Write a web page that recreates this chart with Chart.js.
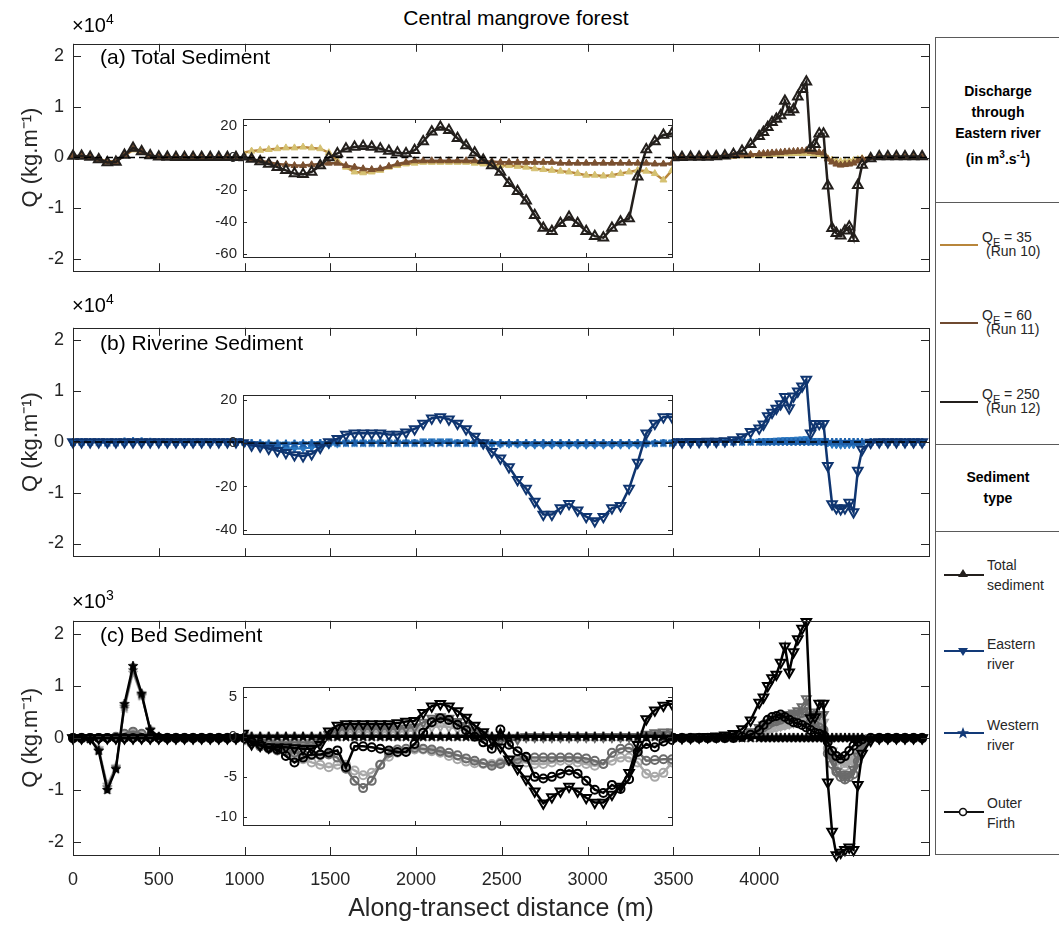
<!DOCTYPE html>
<html>
<head>
<meta charset="utf-8">
<title>Central mangrove forest</title>
<script src="https://cdn.jsdelivr.net/npm/chart.js@4.4.1/dist/chart.umd.min.js"></script>
<style>
  body { margin: 0; background: #fff; }
  #page { position: relative; width: 1059px; height: 926px; overflow: hidden; background: #fff;
          font-family: "Liberation Sans", Arial, Helvetica, sans-serif; color: #262626; }
  #page canvas { position: absolute; }
  .t { position: absolute; white-space: nowrap; }
  .rule { position: absolute; left: 935px; width: 130px; height: 1px; background: #5a5a5a; }
  .hd { position: absolute; left: 937px; width: 122px; text-align: center; font-weight: bold; font-size: 14px; line-height: 21px; color: #000; }
  .lg { position: absolute; font-size: 14px; line-height: 20px; color: #262626; white-space: nowrap; }
  .lg sub { font-size: 11px; vertical-align: -4px; line-height: 0; }
  .sw { position: absolute; }
</style>
</head>
<body>
<div id="page">
  <div class="t" style="left:0;width:1032px;top:6px;text-align:center;font-size:21px;line-height:24px;color:#000">Central mangrove forest</div>

  <!-- legend panel -->
  <div style="position:absolute;left:935px;top:37px;width:140px;height:818px;border:1px solid #5a5a5a;box-sizing:border-box"></div>
  <div class="rule" style="top:202px"></div>
  <div class="rule" style="top:444px"></div>
  <div class="rule" style="top:531px"></div>
  <div class="hd" style="top:81px">Discharge<br>through<br>Eastern river<br>(in m<sup style="font-size:10px">3</sup>.s<sup style="font-size:10px">-1</sup>)</div>

  <svg class="sw" style="left:940px;top:242px" width="40" height="6"><line x1="0" y1="3" x2="38" y2="3" stroke="#b8863b" stroke-width="2"/></svg>
  <div class="lg" style="left:982px;top:227px">Q<sub>E</sub> = 35</div>
  <div class="lg" style="left:986px;top:241px">(Run 10)</div>
  <svg class="sw" style="left:940px;top:320px" width="40" height="6"><line x1="0" y1="3" x2="38" y2="3" stroke="#6f4a30" stroke-width="2"/></svg>
  <div class="lg" style="left:982px;top:305px">Q<sub>E</sub> = 60</div>
  <div class="lg" style="left:986px;top:319px">(Run 11)</div>
  <svg class="sw" style="left:940px;top:399px" width="40" height="6"><line x1="0" y1="3" x2="38" y2="3" stroke="#231f1c" stroke-width="2"/></svg>
  <div class="lg" style="left:982px;top:384px">Q<sub>E</sub> = 250</div>
  <div class="lg" style="left:986px;top:398px">(Run 12)</div>

  <div class="hd" style="top:467px">Sediment<br>type</div>

  <svg class="sw" style="left:944px;top:567px" width="42" height="14"><line x1="0" y1="8" x2="40" y2="8" stroke="#231f1c" stroke-width="2"/><polygon points="19,2 24,10 14,10" fill="#231f1c"/></svg>
  <div class="lg" style="left:987px;top:555px">Total<br>sediment</div>
  <svg class="sw" style="left:944px;top:645px" width="42" height="14"><line x1="0" y1="6" x2="40" y2="6" stroke="#123a78" stroke-width="2"/><polygon points="14,3 24,3 19,11" fill="#123a78"/></svg>
  <div class="lg" style="left:987px;top:634px">Eastern<br>river</div>
  <svg class="sw" style="left:944px;top:726px" width="42" height="14"><line x1="0" y1="7" x2="40" y2="7" stroke="#123a78" stroke-width="2"/><polygon points="19,1 20.6,5.3 25,5.3 21.5,8 22.8,12.5 19,9.8 15.2,12.5 16.5,8 13,5.3 17.4,5.3" fill="#123a78"/></svg>
  <div class="lg" style="left:987px;top:715px">Western<br>river</div>
  <svg class="sw" style="left:944px;top:805px" width="42" height="14"><line x1="0" y1="7" x2="40" y2="7" stroke="#111" stroke-width="2"/><circle cx="19" cy="7" r="3.5" fill="#fff" stroke="#111" stroke-width="1.6"/></svg>
  <div class="lg" style="left:987px;top:793px">Outer<br>Firth</div>
</div>

<script>
// along-transect distance (m), shared by every series
const distance = [
  0, 50, 100, 150, 200, 250, 300, 350, 400, 450, 500, 550, 600, 650, 700, 750, 800, 850, 900, 950,
  1000, 1050, 1100, 1150, 1200, 1250, 1300, 1350, 1400, 1450, 1500, 1550, 1600, 1650, 1700, 1750, 1800, 1850, 1900, 1950,
  2000, 2050, 2100, 2150, 2200, 2250, 2300, 2350, 2400, 2450, 2500, 2550, 2600, 2650, 2700, 2750, 2800, 2850, 2900, 2950,
  3000, 3050, 3100, 3150, 3200, 3250, 3300, 3350, 3400, 3450, 3500, 3550, 3600, 3650, 3700, 3750, 3800, 3850, 3900, 3950,
  4000, 4025, 4050, 4075, 4100, 4125, 4150, 4175, 4200, 4225, 4250, 4275, 4300, 4325, 4350, 4375, 4400, 4425, 4450, 4475, 4500, 4525, 4550, 4575, 4600,
  4650, 4700, 4750, 4800, 4850, 4900, 4950
];

// (a) total sediment flux, kg/m
const totalRun12 = [
  300, 300, 100, -400, -1000, -900, 500, 1900, 1200, 400, 150, 80, 60, 50, 50, 50, 50, 50, 50, 40,
  0.5, -1, -2.5, -4, -6, -8, -10, -10.5, -9, -5, 0, 2.5, 5.5, 6.5, 7, 6.5, 5.5, 4, 3, 2.5,
  4.5, 10, 16, 19, 17, 12, 7.5, 3, -1.5, -5, -9, -16, -21, -27, -36, -44, -46, -41, -37, -41,
  -46, -49, -50, -44, -40, -38, -12, 5, 10, 14, 15, 60, 80, 100, 120, 200, 350, 650, 1300, 2600,
  4200, 5000, 6000, 7000, 7600, 8300, 11200, 9000, 9500, 12000, 13500, 15000, 1900, 2600, 4700, 4700, -5600, -14000, -15000, -15500, -14500, -13700, -16000, -5500, -1500,
  -200, 200, 200, 200, 200, 200, 200
];
const totalRun11 = [
  250, 250, 50, -350, -900, -800, 400, 1700, 1100, 300, 120, 60, 50, 40, 40, 40, 40, 40, 40, 30,
  0, -1, -2, -3, -4, -4.5, -5, -5, -4.5, -4, -3.5, -3.5, -5, -6, -7, -7.5, -7, -5.5, -4, -3,
  -2, -2, -2, -2, -2, -2, -2, -2, -2.5, -2.5, -3, -3, -3, -3, -3, -3, -3, -3.5, -3.5, -3.5,
  -3.5, -3.5, -3.5, -3.5, -3.5, -3.5, -3.5, -3.5, -4, -4, -3.5, 20, 50, 80, 100, 150, 200, 300, 450, 600,
  700, 800, 850, 900, 950, 1000, 1100, 1150, 1200, 1250, 1300, 1400, 1200, 1100, 1000, 900, -300, -900, -1300, -1500, -1400, -1300, -1100, -700, -300,
  0, 0, 0, 0, 0, 0, 0
];
const totalRun10 = [
  200, 200, 40, -300, -800, -700, 350, 1500, 1000, 250, 100, 50, 40, 30, 30, 30, 30, 30, 30, 20,
  3, 4, 4.5, 5, 5.5, 6, 6, 6.5, 6, 5.5, 3, -2, -6, -9, -9.5, -9, -8, -6, -5, -4,
  -3.5, -3, -3, -3, -3, -3, -3, -3.5, -4, -4.5, -5, -5, -5.5, -6, -7, -7.5, -8, -8.5, -9, -10,
  -11, -11, -11.5, -11, -10, -9, -8, -8.5, -10, -14, -8, 10, 30, 50, 80, 120, 160, 220, 300, 400,
  450, 500, 550, 600, 650, 700, 750, 750, 800, 800, 850, 850, 800, 700, 600, 500, -200, -500, -700, -800, -800, -700, -600, -400, -200,
  0, 0, 0, 0, 0, 0, 0
];

// (b) riverine sediment flux, kg/m
const eastRiverRun12 = [
  0, 0, 0, 0, 0, 0, 0, 0, 0, 0, 0, 0, 0, 0, 0, 0, 0, 0, 0, 0,
  0, -1, -1.5, -2.5, -3.5, -4.5, -5.5, -6, -5, -2, 0.5, 2, 4, 4.5, 4.5, 4.5, 4.5, 4, 4, 5,
  6.5, 9, 11.5, 12, 11, 9, 6.5, 3, 0, -4, -7, -11, -17, -21, -27, -33, -33, -30, -28, -31,
  -34, -36, -34, -30, -29, -21, -9, 4.5, 9, 12, 12, 20, 30, 50, 80, 120, 200, 400, 1000, 2000,
  2700, 3500, 5100, 5800, 6600, 7500, 8900, 6700, 9000, 10000, 11000, 12300, 1700, 3600, 3600, 3600, -4700, -12200, -13000, -13200, -13000, -11900, -13800, -5600, -1500,
  -100, 0, 0, 0, 0, 0, 0
];
const eastRiverRun11 = [
  0, 0, 0, 0, 0, 0, 0, 0, 0, 0, 0, 0, 0, 0, 0, 0, 0, 0, 0, 0,
  0, -0.5, -1, -1.5, -2, -2.5, -2.5, -2.5, -2, -1.5, -0.5, 0, 0.5, 0.5, 0.5, 0.5, 0.5, 0.5, 0.5, 0.5,
  0.5, 1, 1, 1, 1, 0.5, 0.5, 0, 0, -0.5, -0.5, -0.5, -0.5, -1, -1, -1, -1, -1, -1, -1,
  -1, -1, -1, -1, -1, -1, -1, -0.5, 0, 0.5, 0.5, 5, 10, 15, 20, 30, 40, 60, 90, 120,
  160, 200, 250, 300, 350, 400, 450, 450, 500, 550, 600, 650, 300, 300, 300, 300, -200, -500, -600, -650, -600, -550, -600, -300, -100,
  0, 0, 0, 0, 0, 0, 0
];
const eastRiverRun10 = [
  0, 0, 0, 0, 0, 0, 0, 0, 0, 0, 0, 0, 0, 0, 0, 0, 0, 0, 0, 0,
  0, -0.5, -1, -1.5, -2, -2, -2.5, -2.5, -2, -1.5, -1, -0.5, 0, 0, 0, 0, 0, 0, 0, 0,
  0, 0, 0.5, 0.5, 0.5, 0, 0, 0, 0, 0, -0.5, -0.5, -0.5, -0.5, -0.5, -0.5, -0.5, -0.5, -0.5, -0.5,
  -0.5, -0.5, -0.5, -0.5, -0.5, -0.5, -0.5, 0, 0, 0, 0, 3, 5, 8, 10, 15, 20, 30, 45, 60,
  80, 100, 120, 150, 170, 200, 220, 230, 250, 270, 300, 320, 150, 150, 150, 150, -100, -250, -300, -320, -300, -280, -300, -150, -50,
  0, 0, 0, 0, 0, 0, 0
];
const westRiverRun12 = [
  0, 0, 0, -40, -120, -80, 80, 160, 100, 30, 0, 0, 0, 0, 0, 0, 0, 0, 0, 0,
  0, 0, -0.2, -0.3, -0.4, -0.4, -0.4, -0.3, -0.2, 0, 0, 0, 0, 0, 0, 0, 0, 0, 0, 0,
  0, 0, 0, 0, 0, 0, 0, 0, 0, 0, 0, 0, 0, 0, 0, 0, 0, 0, 0, 0,
  0, 0, 0, 0, 0, 0, 0, 0, 0, 0, 0, 0, 0, 0, 0, 0, 0, 0, 0, 0,
  0, 0, 0, 0, 0, 0, 0, 0, 0, 0, 0, 0, 0, 0, 0, 0, 0, 0, 0, 0, 0, 0, 0, 0, 0,
  0, 0, 0, 0, 0, 0, 0
];
const westRiverRun11 = [
  0, 0, 0, -30, -100, -70, 70, 140, 90, 25, 0, 0, 0, 0, 0, 0, 0, 0, 0, 0,
  0, 0, -0.2, -0.3, -0.3, -0.3, -0.3, -0.2, -0.1, 0, 0, 0, 0, 0, 0, 0, 0, 0, 0, 0,
  0, 0, 0, 0, 0, 0, 0, 0, 0, 0, 0, 0, 0, 0, 0, 0, 0, 0, 0, 0,
  0, 0, 0, 0, 0, 0, 0, 0, 0, 0, 0, 0, 0, 0, 0, 0, 0, 0, 0, 0,
  0, 0, 0, 0, 0, 0, 0, 0, 0, 0, 0, 0, 0, 0, 0, 0, 0, 0, 0, 0, 0, 0, 0, 0, 0,
  0, 0, 0, 0, 0, 0, 0
];
const westRiverRun10 = [
  0, 0, 0, -25, -90, -60, 60, 120, 80, 20, 0, 0, 0, 0, 0, 0, 0, 0, 0, 0,
  0, 0, -0.1, -0.2, -0.2, -0.2, -0.2, -0.1, 0, 0, 0, 0, 0, 0, 0, 0, 0, 0, 0, 0,
  0, 0, 0, 0, 0, 0, 0, 0, 0, 0, 0, 0, 0, 0, 0, 0, 0, 0, 0, 0,
  0, 0, 0, 0, 0, 0, 0, 0, 0, 0, 0, 0, 0, 0, 0, 0, 0, 0, 0, 0,
  0, 0, 0, 0, 0, 0, 0, 0, 0, 0, 0, 0, 0, 0, 0, 0, 0, 0, 0, 0, 0, 0, 0, 0, 0,
  0, 0, 0, 0, 0, 0, 0
];

// (c) bed sediment flux, kg/m
const eastBedRun12 = [
  0, 0, 0, 0, 0, 0, 0, 0, 0, 0, 0, 0, 0, 0, 0, 0, 0, 0, 0, 0,
  0.4, -0.9, -1.1, -1.3, -1.3, -1.3, -1.4, -1.5, -1.5, -1, 0.7, 1.4, 1.6, 1.6, 1.6, 1.6, 1.6, 1.6, 1.7, 1.9,
  2, 3, 3.8, 4.1, 3.8, 3.2, 2.4, 1.4, 0.6, -0.3, -1.3, -2.8, -4, -5.3, -6.8, -8.3, -7.5, -6.8, -6.2, -6.8,
  -7.6, -8.2, -8.2, -7.2, -6.2, -4.5, -1, 2.2, 3.3, 3.9, 4.1, 5, 10, 15, 20, 30, 50, 80, 170, 340,
  680, 780, 1000, 1150, 1220, 1450, 1760, 1260, 1650, 1900, 2100, 2230, 380, 400, 660, 660, -850, -1800, -2250, -2200, -2150, -2100, -2150, -900, -300,
  -50, 0, 0, 0, 0, 0, 0
];
const eastBedRun11 = [
  0, 0, 0, 0, 0, 0, 0, 0, 0, 0, 0, 0, 0, 0, 0, 0, 0, 0, 0, 0,
  0.2, -0.5, -0.7, -0.9, -1, -1, -1, -1, -1, -0.6, 0.3, 0.8, 1, 1, 1, 1, 1, 1, 1, 1.1,
  1.2, 1.8, 2.3, 2.5, 2.3, 1.9, 1.4, 0.8, 0.3, -0.2, -0.5, -0.5, -0.3, 0, 0, 0, 0, 0, 0, 0,
  0, 0, 0, 0, 0, 0, 0, 0.3, 0.5, 0.6, 0.6, 2, 5, 10, 15, 20, 30, 40, 60, 120,
  200, 250, 300, 330, 360, 400, 430, 450, 480, 520, 600, 750, 500, 450, 450, 450, -100, -400, -650, -700, -750, -700, -600, -350, -150,
  0, 0, 0, 0, 0, 0, 0
];
const eastBedRun10 = [
  0, 0, 0, 0, 0, 0, 0, 0, 0, 0, 0, 0, 0, 0, 0, 0, 0, 0, 0, 0,
  0.1, -0.3, -0.5, -0.6, -0.7, -0.7, -0.7, -0.7, -0.7, -0.4, 0.2, 0.5, 0.6, 0.6, 0.6, 0.6, 0.6, 0.6, 0.6, 0.7,
  0.8, 1, 1.2, 1.3, 1.2, 1, 0.7, 0.4, 0.1, -0.1, -0.2, -0.2, -0.1, 0, 0, 0, 0, 0, 0, 0,
  0, 0, 0, 0, 0, 0, 0, 0.2, 0.3, 0.3, 0.3, 1, 3, 5, 8, 12, 18, 25, 40, 70,
  110, 140, 170, 190, 210, 240, 260, 280, 300, 330, 380, 450, 350, 320, 300, 300, -50, -250, -350, -420, -450, -420, -400, -250, -100,
  0, 0, 0, 0, 0, 0, 0
];
const westBedRun12 = [
  0, 0, -20, -250, -1000, -600, 650, 1380, 850, 150, 20, 0, 0, 0, 0, 0, 0, 0, 0, 0,
  0, 0, 0, 0, 0, 0, 0, 0, 0, 0, 0, 0, 0, 0, 0, 0, 0, 0, 0, 0,
  0, 0, 0, 0, 0, 0, 0, 0, 0, 0, 0, 0, 0, 0, 0, 0, 0, 0, 0, 0,
  0, 0, 0, 0, 0, 0, 0, 0, 0, 0, 0, 0, 0, 0, 0, 0, 0, 0, 0, 0,
  0, 0, 0, 0, 0, 0, 0, 0, 0, 0, 0, 0, 0, 0, 0, 0, 0, 0, 0, 0, 0, 0, 0, 0, 0,
  0, 0, 0, 0, 0, 0, 0
];
const westBedRun11 = [
  0, 0, -20, -230, -950, -570, 600, 1300, 820, 160, 20, 0, 0, 0, 0, 0, 0, 0, 0, 0,
  0, 0, 0, 0, 0, 0, 0, 0, 0, 0, 0, 0, 0, 0, 0, 0, 0, 0, 0, 0,
  0, 0, 0, 0, 0, 0, 0, 0, 0, 0, 0, 0, 0, 0, 0, 0, 0, 0, 0, 0,
  0, 0, 0, 0, 0, 0, 0, 0, 0, 0, 0, 0, 0, 0, 0, 0, 0, 0, 0, 0,
  0, 0, 0, 0, 0, 0, 0, 0, 0, 0, 0, 0, 0, 0, 0, 0, 0, 0, 0, 0, 0, 0, 0, 0, 0,
  0, 0, 0, 0, 0, 0, 0
];
const westBedRun10 = [
  0, 0, -15, -200, -900, -550, 560, 1250, 800, 170, 20, 0, 0, 0, 0, 0, 0, 0, 0, 0,
  0, 0, 0, 0, 0, 0, 0, 0, 0, 0, 0, 0, 0, 0, 0, 0, 0, 0, 0, 0,
  0, 0, 0, 0, 0, 0, 0, 0, 0, 0, 0, 0, 0, 0, 0, 0, 0, 0, 0, 0,
  0, 0, 0, 0, 0, 0, 0, 0, 0, 0, 0, 0, 0, 0, 0, 0, 0, 0, 0, 0,
  0, 0, 0, 0, 0, 0, 0, 0, 0, 0, 0, 0, 0, 0, 0, 0, 0, 0, 0, 0, 0, 0, 0, 0, 0,
  0, 0, 0, 0, 0, 0, 0
];
const firthBedRun12 = [
  0, 0, 0, 0, 0, 0, 0, 0, 0, 0, 0, 0, 0, 0, 0, 0, 0, 0, 0, 0,
  -0.3, -0.6, -1, -1.4, -1.6, -2.4, -3.2, -2.6, -2.2, -2.2, -2, -1.7, -3.8, -1.2, -1.2, -1.3, -1.5, -1.7, -1.9, -1.9,
  -0.9, 0.5, 1.8, 2.3, 2.1, 1.5, 0.8, 0, -0.7, -1.5, 0.9, -1, -1.8, -2.5, -5, -5.2, -5, -4.6, -4.2, -4.6,
  -5.5, -6.6, -7, -6, -6.5, -5.3, -1.9, -0.9, -1.3, -0.6, -0.4, 0, 0, 0, 0, 0, 0, 0, 20, 60,
  150, 250, 350, 400, 420, 450, 400, 350, 300, 280, 250, 200, 150, 100, 80, 50, -80, -250, -350, -400, -350, -250, -150, -80, -30,
  0, 0, 0, 0, 0, 0, 0
];
const firthBedRun11 = [
  0, 0, 0, 0, 0, 20, 80, 120, 80, 20, 0, 0, 0, 0, 0, 0, 0, 0, 0, 0,
  -0.4, -0.8, -1.2, -1.5, -1.7, -1.8, -2, -2.2, -2.3, -2.3, -2.2, -2.6, -4, -5.5, -6.4, -5.5, -3.5, -2, -1.6, -1.5,
  -1.4, -1.5, -1.6, -1.8, -2, -2.3, -2.7, -3, -3.3, -3.6, -3.4, -3, -2.8, -2.6, -2.6, -2.6, -2.6, -2.6, -2.6, -2.6,
  -2.7, -3, -3.4, -2, -1.5, -1.4, -1.8, -3, -2.9, -2.8, -2.8, 0, 0, 0, 0, 0, 0, 10, 40, 80,
  150, 200, 250, 300, 320, 350, 380, 400, 420, 450, 480, 500, 300, 250, 200, 150, -300, -500, -650, -750, -800, -750, -700, -450, -200,
  0, 0, 0, 0, 0, 0, 0
];
const firthBedRun10 = [
  0, 0, 0, 0, 0, 10, 50, 80, 50, 10, 0, 0, 0, 0, 0, 0, 0, 0, 0, 0,
  -0.5, -0.8, -1, -1.2, -1.4, -1.8, -2.3, -2.8, -3.2, -3.5, -3.8, -3.5, -3.5, -4.2, -4.8, -4.5, -3.5, -2.5, -2, -1.8,
  -1.6, -1.6, -1.8, -2, -2.4, -2.8, -3.1, -3.3, -3.4, -3.4, -3.2, -3, -3, -3.2, -3.4, -3.4, -3.2, -3, -3, -3.2,
  -3.4, -3.6, -3.4, -3, -2.6, -2.6, -3.2, -4.6, -5, -4.5, -3.2, 0, 0, 0, 0, 0, 0, 5, 20, 50,
  100, 130, 160, 190, 210, 230, 250, 270, 290, 310, 330, 350, 250, 200, 150, 100, -200, -350, -450, -500, -550, -500, -450, -300, -120,
  0, 0, 0, 0, 0, 0, 0
];

// axes
const xMax = 4990;
const xTicksMain = [0, 500, 1000, 1500, 2000, 2500, 3000, 3500, 4000];
const xTicksInset = [1000, 1500, 2000, 2500, 3000, 3500];
const yTicksA = [-20000, -10000, 0, 10000, 20000];
const yTicksB = [-20000, -10000, 0, 10000, 20000];
const yTicksC = [-2000, -1000, 0, 1000, 2000];
const insetTicksA = [-60, -40, -20, 0, 20];
const insetTicksB = [-40, -20, 0, 20];
const insetTicksC = [-10, -5, 0, 5];

const FONT = '"Liberation Sans", Arial, Helvetica, sans-serif';
const AXIS = '#262626';

const allSeries = { totalRun10, totalRun11, totalRun12, eastRiverRun10, eastRiverRun11, eastRiverRun12,
  westRiverRun10, westRiverRun11, westRiverRun12, eastBedRun10, eastBedRun11, eastBedRun12,
  westBedRun10, westBedRun11, westBedRun12, firthBedRun10, firthBedRun11, firthBedRun12 };
Object.entries(allSeries).forEach(([k, v]) => {
  if (v.length !== distance.length) throw new Error(k + ' has ' + v.length + ' values, expected ' + distance.length);
});

// filled five point star used as a point style
function starImage(color, r) {
  const c = document.createElement('canvas');
  const s = Math.ceil(r * 2 + 2);
  c.width = s; c.height = s;
  const g = c.getContext('2d');
  g.translate(s / 2, s / 2);
  g.beginPath();
  for (let k = 0; k < 10; k++) {
    const rad = k % 2 ? r * 0.45 : r;
    const a = -Math.PI / 2 + k * Math.PI / 5;
    g.lineTo(rad * Math.cos(a), rad * Math.sin(a));
  }
  g.closePath();
  g.fillStyle = color; g.fill();
  g.strokeStyle = color; g.lineWidth = 1; g.stroke();
  return c;
}

function series(values, color, marker, opt = {}) {
  const mc = opt.markerColor || color;
  let style = 'triangle';
  if (marker === 'circ') style = 'circle';
  if (marker === 'star') style = starImage(mc, opt.r || 4);
  return {
    data: distance.map((d, i) => ({ x: d, y: values[i] })),
    borderColor: color,
    borderWidth: opt.lw || 2,
    pointStyle: style,
    pointRotation: marker === 'dtri' ? 180 : 0,
    pointRadius: opt.r || 3,
    pointBorderWidth: opt.hollow ? 2 : 1,
    pointBorderColor: mc,
    pointBackgroundColor: opt.hollow ? 'rgba(0,0,0,0)' : mc,
    tension: 0,
    fill: false
  };
}

function zeroLine() {
  return { data: [{ x: distance[0], y: 0 }, { x: xMax, y: 0 }], borderColor: '#000', borderWidth: 1.3,
           borderDash: [7, 4], pointRadius: 0, fill: false };
}

// first entry is drawn on top
const panelA = () => [
  zeroLine(),
  series(totalRun12, '#231f1c', 'tri', { r: 5.5, hollow: true, lw: 2.5 }),
  series(totalRun11, '#7a5030', 'tri', { r: 4, lw: 2.5 }),
  series(totalRun10, '#b8863b', 'tri', { r: 4, lw: 2.5, markerColor: '#d5c172' })
];
const panelB = () => [
  zeroLine(),
  series(eastRiverRun12, '#0f3570', 'dtri', { r: 5.5, hollow: true, lw: 2.5 }),
  series(westRiverRun12, '#1d5ea8', 'star', { r: 4 }),
  series(eastRiverRun11, '#2c78c0', 'dtri', { r: 4 }),
  series(westRiverRun11, '#2c78c0', 'star', { r: 4 }),
  series(eastRiverRun10, '#4f9ad8', 'dtri', { r: 4 }),
  series(westRiverRun10, '#4f9ad8', 'star', { r: 4 })
];
const panelC = () => [
  zeroLine(),
  series(eastBedRun12, '#000000', 'dtri', { r: 5.5, hollow: true, lw: 2.5 }),
  series(westBedRun12, '#000000', 'star', { r: 5, lw: 2.5 }),
  series(firthBedRun12, '#000000', 'circ', { r: 4, hollow: true, lw: 2.5 }),
  series(eastBedRun11, '#6b6b6b', 'dtri', { r: 5, hollow: true, lw: 2.5 }),
  series(westBedRun11, '#6b6b6b', 'star', { r: 5 }),
  series(firthBedRun11, '#6b6b6b', 'circ', { r: 4, hollow: true, lw: 2.5 }),
  series(eastBedRun10, '#a8a8a8', 'dtri', { r: 5, hollow: true, lw: 2.5 }),
  series(westBedRun10, '#a8a8a8', 'star', { r: 5 }),
  series(firthBedRun10, '#a8a8a8', 'circ', { r: 4, hollow: true, lw: 2.5 })
];

// box around the axes with inward ticks on all four sides
const matlabBox = {
  id: 'matlabBox',
  beforeDatasetsDraw(chart, args, opts) {
    if (!opts.fill) return;
    const a = chart.chartArea, ctx = chart.ctx;
    ctx.save();
    ctx.fillStyle = '#fff';
    ctx.fillRect(a.left, a.top, a.right - a.left, a.bottom - a.top);
    ctx.restore();
  },
  afterDraw(chart, args, opts) {
    const { ctx, chartArea: a, scales } = chart;
    const L = opts.tick || 8;
    ctx.save();
    ctx.strokeStyle = AXIS;
    ctx.lineWidth = 1;
    ctx.beginPath();
    scales.x.ticks.forEach(t => {
      const px = Math.round(scales.x.getPixelForValue(t.value)) + 0.5;
      ctx.moveTo(px, a.bottom); ctx.lineTo(px, a.bottom - L);
      ctx.moveTo(px, a.top); ctx.lineTo(px, a.top + L);
    });
    scales.y.ticks.forEach(t => {
      const py = Math.round(scales.y.getPixelForValue(t.value)) + 0.5;
      ctx.moveTo(a.left, py); ctx.lineTo(a.left + L, py);
      ctx.moveTo(a.right, py); ctx.lineTo(a.right - L, py);
    });
    ctx.stroke();
    ctx.strokeRect(Math.round(a.left) + 0.5, Math.round(a.top) + 0.5,
                   Math.round(a.right - a.left), Math.round(a.bottom - a.top));
    ctx.restore();
  }
};

function addCanvas(left, top, w, h) {
  const c = document.createElement('canvas');
  c.width = w; c.height = h;
  c.style.left = left + 'px'; c.style.top = top + 'px';
  c.style.width = w + 'px'; c.style.height = h + 'px';
  document.getElementById('page').appendChild(c);
  return c;
}

function buildChart(canvas, cfg) {
  const sets = cfg.sets.map(s => cfg.fill ? s : Object.assign(s, { clip: false }));
  return new Chart(canvas, {
    type: 'line',
    data: { datasets: sets },
    options: {
      responsive: false,
      animation: false,
      events: [],
      layout: { padding: cfg.pad },
      plugins: { legend: { display: false }, tooltip: { enabled: false }, matlabBox: { tick: cfg.tick, fill: cfg.fill } },
      scales: {
        x: {
          type: 'linear', min: cfg.xMin, max: cfg.xMax,
          afterBuildTicks: s => { s.ticks = cfg.xTicks.map(v => ({ value: v })); },
          afterFit: s => { s.height = cfg.xHeight; },
          grid: { display: false, drawTicks: false }, border: { display: false },
          ticks: { display: !!cfg.xLabels, autoSkip: false, maxRotation: 0, padding: 14, color: AXIS,
                   font: { family: FONT, size: 18 }, callback: v => String(v) },
          title: { display: !!cfg.xTitle, text: cfg.xTitle || '', color: AXIS,
                   font: { family: FONT, size: 25 }, padding: { top: 0, bottom: 1 } }
        },
        y: {
          min: cfg.yMin, max: cfg.yMax,
          afterBuildTicks: s => { s.ticks = cfg.yTicks.map(v => ({ value: v })); },
          afterFit: s => { s.width = cfg.yWidth; },
          grid: { display: false, drawTicks: false }, border: { display: false },
          ticks: { padding: cfg.yPad, color: AXIS, font: { family: FONT, size: cfg.tickSize },
                   callback: v => String(v / cfg.yScale) },
          title: { display: !!cfg.yTitle, text: cfg.yTitle || '', color: AXIS,
                   font: { family: FONT, size: 22 }, padding: { top: 18 } }
        }
      }
    },
    plugins: [matlabBox]
  });
}

const mainBase = { xMin: 0, xMax: xMax, xTicks: xTicksMain, yWidth: 73, yPad: 9, tickSize: 18, tick: 8,
                   yTitle: 'Q (kg.m\u207B\u00B9)', fill: false };
const insetBase = { xMin: 1000, xMax: 3500, xTicks: xTicksInset, xHeight: 0, yWidth: 40, yPad: 6, tickSize: 15,
                    tick: 4, yScale: 1, fill: true, pad: { left: 0, right: 8, top: 12, bottom: 12 } };

// main panels
buildChart(addCanvas(0, 24, 940, 267), Object.assign({}, mainBase, {
  sets: panelA(), yMin: -22500, yMax: 22500, yTicks: yTicksA, yScale: 1e4, xHeight: 0,
  pad: { left: 0, right: 11, top: 14, bottom: 14 } }));
buildChart(addCanvas(0, 308, 940, 268), Object.assign({}, mainBase, {
  sets: panelB(), yMin: -22500, yMax: 22500, yTicks: yTicksB, yScale: 1e4, xHeight: 0,
  pad: { left: 0, right: 11, top: 14, bottom: 14 } }));
buildChart(addCanvas(0, 601, 940, 324), Object.assign({}, mainBase, {
  sets: panelC(), yMin: -2250, yMax: 2250, yTicks: yTicksC, yScale: 1e3, xHeight: 70, xLabels: true,
  xTitle: 'Along-transect distance (m)', pad: { left: 0, right: 11, top: 14, bottom: 0 } }));

// insets
buildChart(addCanvas(203, 104, 477, 168), Object.assign({}, insetBase, {
  sets: panelA(), yMin: -62, yMax: 24, yTicks: insetTicksA }));
buildChart(addCanvas(203, 380, 477, 169), Object.assign({}, insetBase, {
  sets: panelB(), yMin: -42, yMax: 22.2, yTicks: insetTicksB }));
buildChart(addCanvas(203, 672, 477, 168), Object.assign({}, insetBase, {
  sets: panelC(), yMin: -11, yMax: 6.2, yTicks: insetTicksC }));

// labels drawn over the plots
const page = document.getElementById('page');
[
  { html: '\u00D710<sup style="font-size:14px">4</sup>', left: 72, top: 8, size: 20 },
  { html: '\u00D710<sup style="font-size:14px">4</sup>', left: 72, top: 288, size: 20 },
  { html: '\u00D710<sup style="font-size:14px">3</sup>', left: 72, top: 584, size: 20 },
  { html: '(a) Total Sediment', left: 100, top: 45, size: 21 },
  { html: '(b) Riverine Sediment', left: 100, top: 331, size: 21 },
  { html: '(c) Bed Sediment', left: 100, top: 623, size: 21 }
].forEach(l => {
  const d = document.createElement('div');
  d.className = 't';
  d.style.left = l.left + 'px'; d.style.top = l.top + 'px';
  d.style.fontSize = l.size + 'px'; d.style.lineHeight = Math.round(l.size * 1.15) + 'px';
  d.style.color = '#000';
  d.innerHTML = l.html;
  page.appendChild(d);
});
</script>
</body>
</html>
